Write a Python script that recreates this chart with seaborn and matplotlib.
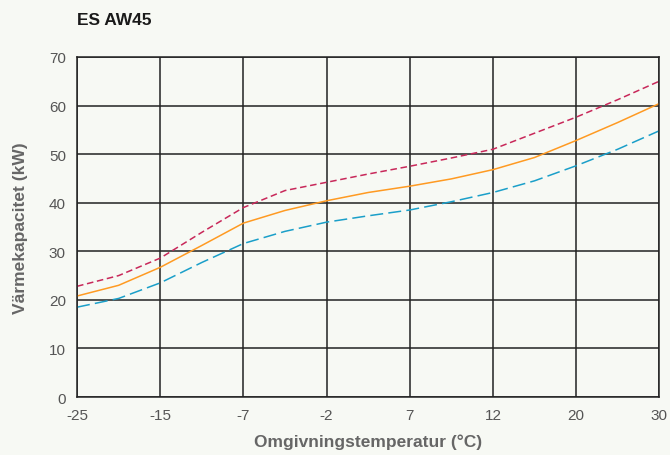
import pandas
import seaborn
import matplotlib.pyplot as plt

#Podaci
temperature = ["-25", "-15", "-7", "-2", "7", "12", "20", "30"]
pozicije = [0, 0.5, 1, 1.5, 2, 2.5, 3, 3.5, 4, 4.5, 5, 5.5, 6, 6.5, 7]
max_kapacitet = [22.8, 25.0, 28.6, 33.9, 39.0, 42.5, 44.2, 45.9, 47.5, 49.2, 51.0, 54.3, 57.6, 61.2, 65.0]
nom_kapacitet = [20.8, 23.0, 26.7, 31.2, 35.8, 38.4, 40.4, 42.1, 43.4, 44.9, 46.8, 49.3, 52.8, 56.5, 60.4]
min_kapacitet = [18.5, 20.3, 23.5, 27.7, 31.6, 34.1, 36.0, 37.3, 38.5, 40.2, 42.1, 44.5, 47.6, 51.0, 54.8]

df = pandas.DataFrame({
    "x": pozicije * 3,
    "kW": max_kapacitet + nom_kapacitet + min_kapacitet,
    "serija": ["max"] * 15 + ["nom"] * 15 + ["min"] * 15,
})

seaborn.set_style("white")
plt.rcParams["font.family"] = ["Liberation Sans", "DejaVu Sans"]

bg = "#f7f9f4"
fig = plt.figure(figsize=(6.7, 4.56), dpi=100, facecolor=bg)
ax = fig.add_axes([0.115, 0.127, 0.869, 0.746])
ax.set_facecolor(bg)

boje = {"max": "#c8285a", "nom": "#ff9a22", "min": "#1a9fc9"}
crte = {"max": (4.3, 2.4), "nom": "", "min": (8.5, 3.4)}
seaborn.lineplot(data=df, x="x", y="kW", hue="serija", style="serija",
                 palette=boje, dashes=crte, linewidth=1.1, legend=False, ax=ax)

#Ose i mreza
ax.set_xlim(0, 7)
ax.set_ylim(0, 70)
ax.set_xticks(range(len(temperature)))
ax.set_xticklabels(temperature)
ax.set_yticks(range(0, 71, 10))
ax.grid(True, color="#222222", linewidth=1.1)
ax.set_axisbelow(True)
for s in ax.spines.values():
    s.set_color("#222222")
    s.set_linewidth(1.1)
ax.tick_params(length=0, labelsize=11, labelcolor="#555555", pad=8)

ax.set_xlabel("Omgivningstemperatur (°C)", fontsize=12.5, fontweight="bold", color="#666666", labelpad=8)
ax.set_ylabel("Värmekapacitet (kW)", fontsize=12.5, fontweight="bold", color="#666666", labelpad=15)
fig.text(0.115, 0.954, "ES AW45", fontsize=12.5, fontweight="bold", color="#1a1a1a", va="center")

plt.savefig("out.png", facecolor=bg)
